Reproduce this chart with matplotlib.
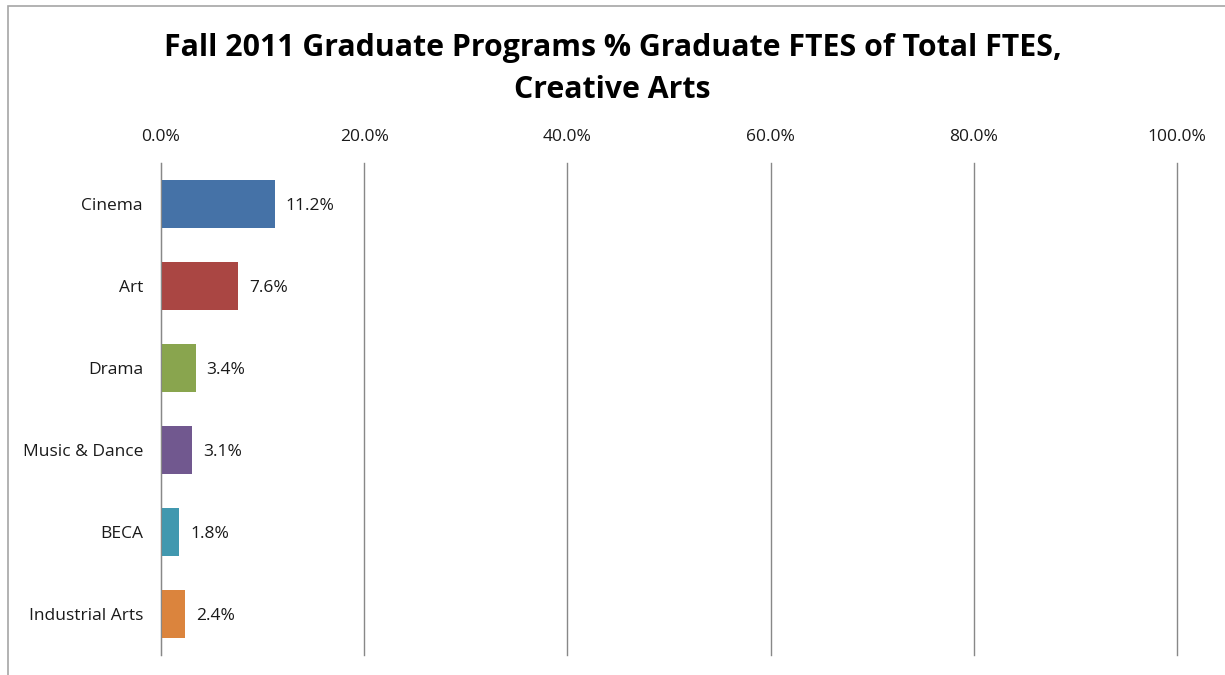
import matplotlib
matplotlib.use("Agg")
import matplotlib.pyplot as plt
from matplotlib.patches import Rectangle
from matplotlib.ticker import FuncFormatter

categories = ["Cinema", "Art", "Drama", "Music & Dance", "BECA", "Industrial Arts"]
values = [11.2, 7.6, 3.4, 3.1, 1.8, 2.4]
colors = ["#4572A7", "#AA4643", "#89A54E", "#71588F", "#4198AF", "#DB843D"]
xticks = [0, 20, 40, 60, 80, 100]
title = "Fall 2011 Graduate Programs % Graduate FTES of Total FTES,\nCreative Arts"

plt.rcParams['font.family'] = ['Open Sans', 'DejaVu Sans']

fig = plt.figure(figsize=(12.25, 6.75), dpi=100)
ax = fig.add_axes([161/1225, 1-655/675, (1177-161)/1225, (655-163)/675])

y = list(range(len(categories)))
ax.barh(y, values, height=0.585, color=colors, zorder=3)
for yi, v in zip(y, values):
    ax.annotate(f"{v:.1f}%", (v, yi + 0.02), xytext=(11, 0), textcoords="offset pixels",
                va="center", ha="left", fontsize=12.5, color="#1a1a1a")

ax.set_ylim(len(categories) - 0.5, -0.5)
ax.set_yticks(y)
ax.set_yticklabels(categories, fontsize=12.5)
ax.set_xlim(0, 100)
ax.set_xticks(xticks)
ax.xaxis.set_major_formatter(FuncFormatter(lambda v, p: f"{v:.1f}%"))
ax.xaxis.tick_top()
ax.tick_params(axis="x", length=0, pad=13, labelsize=12.5, colors="#1a1a1a")
ax.tick_params(axis="y", length=0, pad=13, colors="#1a1a1a")
ax.grid(axis="x", color="#888888", linewidth=1.0, zorder=0)
for gl in ax.get_xgridlines():
    gl.set_clip_on(False)
for s in ["top", "right", "bottom"]:
    ax.spines[s].set_visible(False)
ax.spines["left"].set_color("#888888")
ax.spines["left"].set_zorder(4)

fig.text(0.5, 1-69/675, title, ha="center", va="center", fontsize=21.8,
         fontweight="bold", linespacing=1.5)

fig.patches.append(Rectangle((8/1225, -0.1), 1.2, 1-6/675+0.1, transform=fig.transFigure,
                             fill=False, edgecolor="#a6a6a6", linewidth=1.2))

fig.savefig("out.png", dpi=100)
